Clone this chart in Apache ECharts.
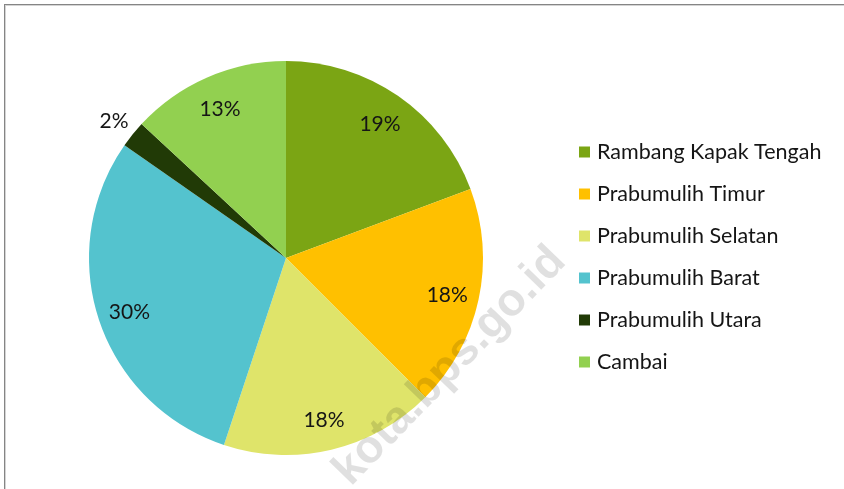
<!DOCTYPE html>
<html>
<head>
<meta charset="utf-8">
<script src="https://cdn.jsdelivr.net/npm/echarts@6/dist/echarts.min.js"></script>
<style>
html,body{margin:0;padding:0;background:#fff;}
#wrap{position:relative;width:844px;height:489px;overflow:hidden;background:#fff;}
#frame{position:absolute;left:4px;top:4px;width:1000px;height:1000px;border-top:1px solid #858585;border-left:1px solid #858585;box-shadow:inset 1px 1px 0 #d4d4d4;pointer-events:none;}
#chart{position:absolute;left:0;top:0;width:844px;height:489px;}
</style>
</head>
<body>
<div id="wrap">
<div id="chart"></div>
<div id="frame"></div>
</div>
<script>
const categories = ['Rambang Kapak Tengah', 'Prabumulih Timur', 'Prabumulih Selatan', 'Prabumulih Barat', 'Prabumulih Utara', 'Cambai'];
const shares = [19.3, 18.2, 17.6, 29.6, 2.2, 13.1];
const colors = ['#7BA514', '#FFC000', '#DFE46A', '#54C3CE', '#213A06', '#92D050'];
const outsideLabel = 'Prabumulih Utara';
const watermarkText = 'kota.bps.go.id';

const chart = echarts.init(document.getElementById('chart'), null, {renderer: 'canvas'});
const fontFam = 'Lato, "Open Sans", sans-serif';
const fmt = p => Math.round(p.percent) + '%';
const transparent = 'rgba(0,0,0,0)';

const mainData = categories.map((c, i) => ({name: c, value: shares[i], itemStyle: {color: colors[i]}}));
const innerLabelData = categories.map((c, i) => ({name: c, value: shares[i], label: {show: c !== outsideLabel}}));
const outerLabelData = categories.map((c, i) => ({name: c, value: shares[i], label: {show: c === outsideLabel}}));

const labelSeries = (radius, data) => ({
  type: 'pie', center: [286, 260], radius: radius, startAngle: 90, clockwise: true,
  silent: true, avoidLabelOverlap: false, z: 3,
  itemStyle: {color: transparent, borderWidth: 0},
  label: {position: 'inside', formatter: fmt, color: '#151515', fontFamily: fontFam, fontSize: 21},
  labelLine: {show: false},
  emphasis: {disabled: true},
  data: data
});

chart.setOption({
  animation: false,
  color: colors,
  legend: {
    orient: 'vertical', left: 579, top: 140, padding: 0,
    itemWidth: 11, itemHeight: 11, itemGap: 18,
    icon: 'rect',
    data: categories,
    textStyle: {fontFamily: fontFam, fontSize: 21.5, color: '#151515', lineHeight: 24, padding: [0, 0, 0, 2]}
  },
  graphic: [{
    type: 'text', z: 100, x: 450, y: 366, rotation: 46 * Math.PI / 180,
    style: {text: watermarkText, fill: 'rgba(0,0,0,0.12)', font: 'bold 46px "Liberation Sans", Arial, sans-serif', align: 'center', verticalAlign: 'middle'}
  }],
  series: [
    {
      type: 'pie', center: [286, 258], radius: 197, startAngle: 90, clockwise: true,
      silent: true, avoidLabelOverlap: false,
      itemStyle: {borderWidth: 0},
      label: {show: false}, labelLine: {show: false},
      emphasis: {disabled: true},
      data: mainData
    },
    labelSeries([0, 324], innerLabelData),
    labelSeries([0, 436], outerLabelData)
  ]
});
</script>
</body>
</html>
